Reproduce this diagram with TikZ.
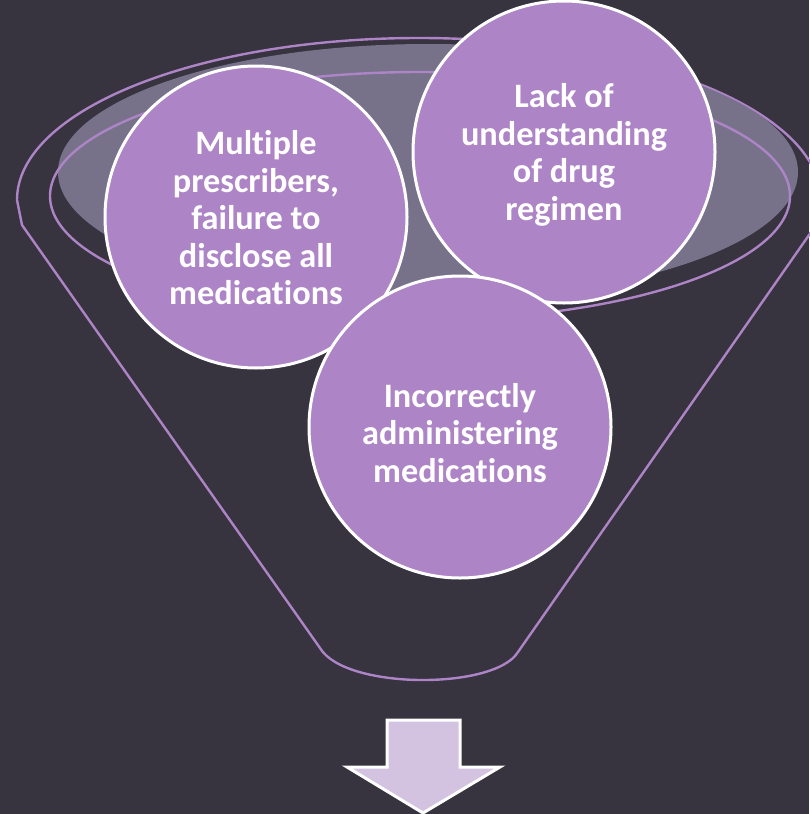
\documentclass[tikz,border=0pt]{standalone}
\usepackage{fontspec}
\setmainfont{Carlito}[Ligatures=NoCommon]
\definecolor{bg}{HTML}{37333F}
\definecolor{lav}{HTML}{AD84C6}
\definecolor{greyfill}{HTML}{77728A}
\definecolor{arrowfill}{HTML}{D3C3E0}
\tikzset{
  funline/.style={draw=lav, line width=2.4pt},
  bubble/.style={circle, fill=lav, draw=white, line width=3pt, minimum size=302pt, inner sep=0pt},
  bubtext/.style={text=white, align=center, font=\bfseries\fontsize{34.3}{37.5}\selectfont},
}
\begin{document}
\begin{tikzpicture}[x=1pt,y=-1pt]
\useasboundingbox (0,0) rectangle (809,814);
\fill[bg] (0,0) rectangle (809,814);
% outer funnel
\draw[funline, line join=round] (17,200) arc[start angle=180,end angle=360,x radius=402,y radius=162]
  -- (816,225) -- (518,652) .. controls (495,690) and (345,690) .. (320,648)
  -- (22,225) -- cycle;
% grey liquid ellipse
\fill[greyfill] (428,172) ellipse[x radius=370,y radius=128];
% inner rim
\draw[funline] (420,196) ellipse[x radius=370,y radius=124];
% bubbles
\node[bubble] (c1) at (256,217) {};
\node[bubble] (c2) at (564,152) {};
\node[bubble] (c3) at (460,427) {};
\node[bubtext] (t1) at ([yshift=-1pt]c1) {Multiple\\prescribers,\\failure to\\disclose all\\medications};
\node[bubtext] (t2) at ([yshift=-3pt]c2) {Lack of\\understanding\\of drug\\regimen};
\node[bubtext] (t3) at ([yshift=-6pt]c3) {Incorrectly\\administering\\medications};
% arrow
\draw[fill=arrowfill, draw=white, line width=3pt, line join=miter]
  (387,720) -- (460,720) -- (460,767) -- (500,767) -- (423,813) -- (347,767) -- (387,767) -- cycle;
\end{tikzpicture}
\end{document}
